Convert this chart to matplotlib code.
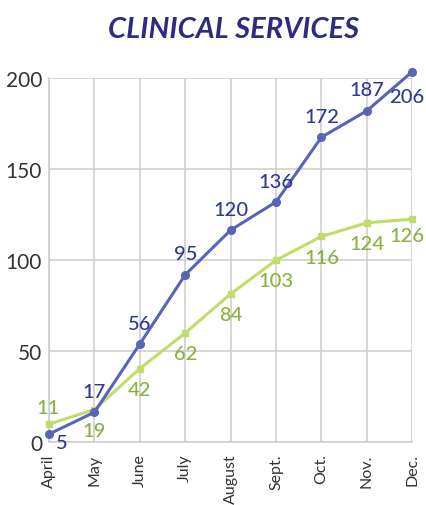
import matplotlib
matplotlib.use('Agg')
import matplotlib.pyplot as plt

# data
months = ['April', 'May', 'June', 'July', 'August', 'Sept.', 'Oct.', 'Nov.', 'Dec.']
blue_values = [4.5, 16.5, 54, 92, 116.5, 132, 167.5, 182, 203.5]
green_values = [10, 18, 40.5, 60, 81.5, 100, 113, 120.5, 122.5]
blue_labels = ['5', '17', '56', '95', '120', '136', '172', '187', '206']
green_labels = ['11', '19', '42', '62', '84', '103', '116', '124', '126']
y_ticks = [0, 50, 100, 150, 200]

plt.rcParams['font.family'] = ['Lato', 'DejaVu Sans']

blue_line = '#5865b5'
blue_text = '#2f3a94'
green_line = '#c2dc6c'
green_text = '#8bb13e'
grid_col = '#cccccc'
tick_col = '#333333'

fig = plt.figure(figsize=(4.27, 5.06), dpi=100)
ax = fig.add_axes([0.1148, 0.1239, 0.9656 - 0.1148, 0.8439 - 0.1239])

x = list(range(len(months)))

ax.plot(x, green_values, color=green_line, lw=2.2, marker='s', ms=4.5,
        zorder=3, clip_on=False)
ax.plot(x, blue_values, color=blue_line, lw=2.2, marker='o', ms=5.5,
        zorder=4, clip_on=False)

# blue labels above, green labels below (with a few exceptions)
for i, (v, t) in enumerate(zip(blue_values, blue_labels)):
    dx, dy = 0, 15
    if i == 0:
        dx, dy = 9, -6
    elif i == len(x) - 1:
        dx, dy = -4, -18
    ax.annotate(t, (i, v), xytext=(dx, dy), textcoords='offset points',
                ha='center', va='center', color=blue_text, fontsize=14.5,
                fontweight='medium', annotation_clip=False, zorder=5)

for i, (v, t) in enumerate(zip(green_values, green_labels)):
    dx, dy = 0, -15
    if i == 0:
        dx, dy = -1, 12
    elif i == len(x) - 1:
        dx, dy = -4, -12
    ax.annotate(t, (i, v), xytext=(dx, dy), textcoords='offset points',
                ha='center', va='center', color=green_text, fontsize=14.5,
                fontweight='medium', annotation_clip=False, zorder=5)

ax.set_xlim(0, len(x) - 1)
ax.set_ylim(0, 200)
ax.set_xticks(x)
ax.set_xticklabels(months, rotation=90, fontsize=11.5, color=tick_col)
ax.set_yticks(y_ticks)
ax.set_yticklabels([str(v) for v in y_ticks], fontsize=15, color=tick_col)
ax.tick_params(length=0)
ax.tick_params(axis='y', pad=5)
ax.tick_params(axis='x', pad=8)

ax.grid(True, color=grid_col, lw=1.1)
ax.set_axisbelow(True)
for s in ['top', 'right']:
    ax.spines[s].set_visible(False)
for s in ['left', 'bottom']:
    ax.spines[s].set_color(grid_col)
    ax.spines[s].set_linewidth(1.1)

fig.text(0.548, 0.94, 'CLINICAL SERVICES', ha='center', va='center',
         fontsize=21, fontweight='bold', fontstyle='italic', color='#2e2b80')

fig.savefig('out.png', dpi=100)
plt.close(fig)
